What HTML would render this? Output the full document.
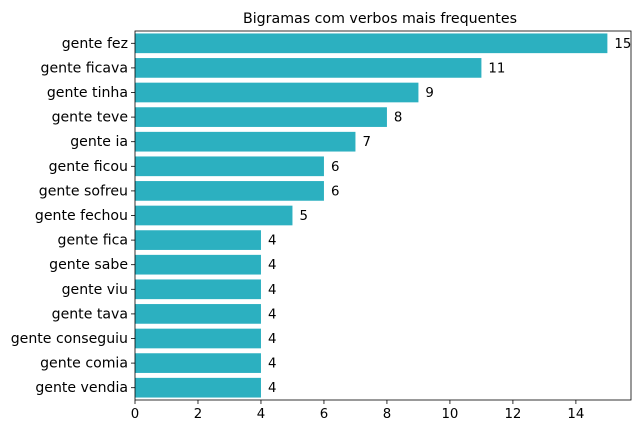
<!DOCTYPE html>
<html><head><meta charset="utf-8"><style>
body{margin:0;background:#fff;}
svg{display:block;font-family:"DejaVu Sans","Liberation Sans",sans-serif;}
</style></head><body>
<svg id="chart" width="640" height="435">
<text x="380" y="23" font-size="14.2" text-anchor="middle">Bigramas com verbos mais frequentes</text>
<g id="bars"></g>
<g id="axes"></g>
</svg>
<script>
const categories=["gente fez","gente ficava","gente tinha","gente teve","gente ia","gente ficou","gente sofreu","gente fechou","gente fica","gente sabe","gente viu","gente tava","gente conseguiu","gente comia","gente vendia"];
const values=[15,11,9,8,7,6,6,5,4,4,4,4,4,4,4];
const xTicks=[0,2,4,6,8,10,12,14];
const L=135,R=631,T=31,B=400;
const xMax=Math.max(...values)*1.05;
const x=v=>L+v/xMax*(R-L);
const band=(B-T)/categories.length;
const y=i=>T+i*band;
const NS="http://www.w3.org/2000/svg";
const bars=document.getElementById('bars'),axes=document.getElementById('axes');
function mk(t,a,p){const e=document.createElementNS(NS,t);for(const k in a)e.setAttribute(k,a[k]);p.appendChild(e);return e;}
categories.forEach((c,i)=>{
 const r=mk('rect',{x:x(0),y:y(i)+band*0.1,width:x(values[i])-x(0),height:band*0.8,fill:'#2cb0c0'},bars);
 
 
 const v=mk('text',{x:x(values[i])+7,y:y(i)+band/2+4.5,'font-size':13.3},bars);
 v.textContent=values[i];
 
 
 const lb=mk('text',{x:L-7,y:y(i)+band/2+4.5,'font-size':14.1,'text-anchor':'end'},axes);
 lb.textContent=c;
 
 
 mk('line',{x1:L-4,x2:L,y1:y(i)+band/2,y2:y(i)+band/2,stroke:'#000','stroke-width':0.8},axes);
});
xTicks.forEach(t=>{
 mk('line',{x1:x(t),x2:x(t),y1:B,y2:B+4,stroke:'#000','stroke-width':0.8},axes);
 const tl=mk('text',{x:x(t),y:B+18,'font-size':13.3,'text-anchor':'middle'},axes);
 tl.textContent=t;
 
 
});
const fr=mk('rect',{x:L,y:T,width:R-L,height:B-T,fill:'none',stroke:'#000','stroke-width':0.8},axes);


</script>
</body></html>
